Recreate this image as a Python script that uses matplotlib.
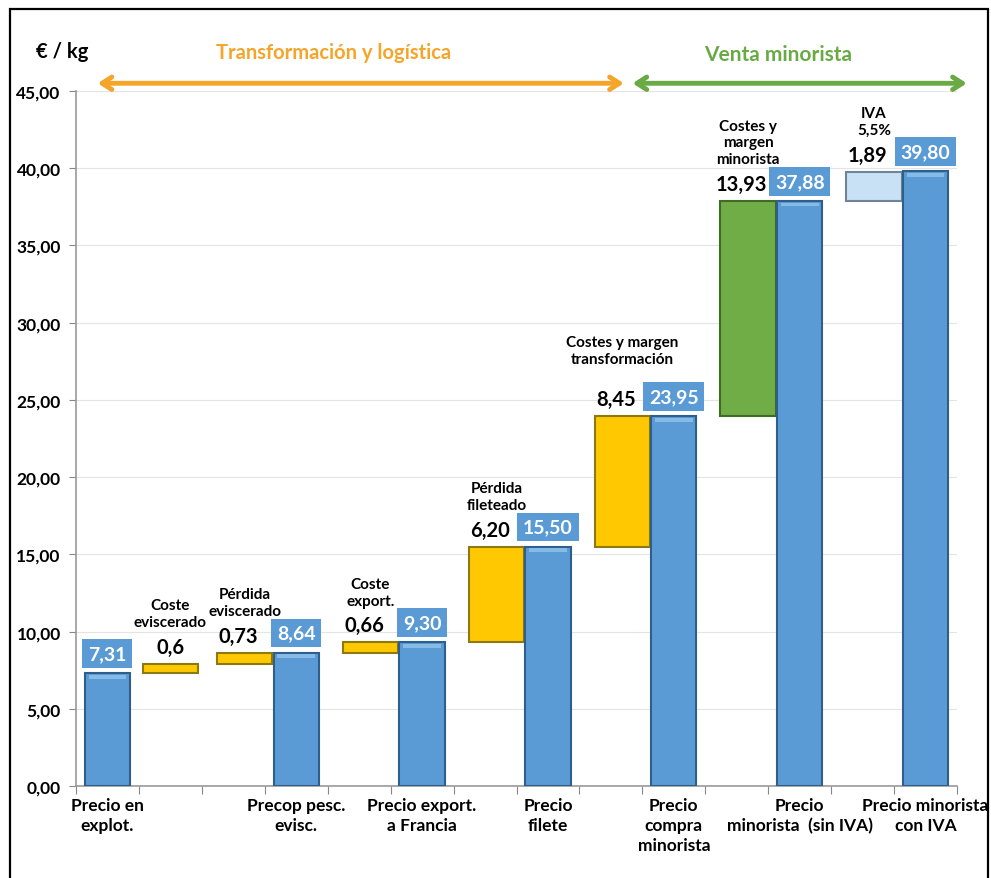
import matplotlib.pyplot as plt
from matplotlib.patches import Rectangle
import numpy as np

plt.rcParams['font.family'] = ['Lato', 'DejaVu Sans']

# 14 slots: totals (blue) and steps in between
kinds = ['total', 'step', 'step', 'total', 'step', 'total', 'step', 'total',
         'step', 'total', 'step', 'total', 'step', 'total']
values = [7.31, 0.6, 0.73, 8.64, 0.66, 9.30, 6.20, 15.50,
          8.45, 23.95, 13.93, 37.88, 1.89, 39.80]
value_labels = ['7,31', '0,6', '0,73', '8,64', '0,66', '9,30', '6,20', '15,50',
                '8,45', '23,95', '13,93', '37,88', '1,89', '39,80']
step_colors = ['yellow', 'yellow', 'yellow', 'yellow', 'yellow', 'green', 'lightblue']
step_names = ['Coste\neviscerado', 'Pérdida\neviscerado', 'Coste\nexport.',
              'Pérdida\nfileteado', 'Costes y margen\ntransformación',
              'Costes y\nmargen\nminorista', 'IVA\n5,5%']
cat_labels = ['Precio en\nexplot.', 'Precop pesc.\nevisc.', 'Precio export.\na Francia',
              'Precio\nfilete', 'Precio\ncompra\nminorista',
              'Precio\nminorista  (sin IVA)', 'Precio minorista\ncon IVA']
yticks = [0, 5, 10, 15, 20, 25, 30, 35, 40, 45]

palette = {'blue': ('#5B9BD5', '#2E5E8C'),
           'yellow': ('#FFC800', '#8C7A10'),
           'green': ('#70AD47', '#3F6B25'),
           'lightblue': ('#C9E1F4', '#6F8496')}

fig = plt.figure(figsize=(9.91, 8.79), dpi=100)
ax = fig.add_axes([76/991, 1-787/879, 881/991, 695/879])

running = 0.0
si = 0
total_x = [i for i, k in enumerate(kinds) if k == 'total']
for i, (k, v, lab) in enumerate(zip(kinds, values, value_labels)):
    if k == 'total':
        fc, ec = palette['blue']
        ax.bar(i, v, width=0.72, color=fc, edgecolor=ec, linewidth=1.5, zorder=3)
        ax.bar(i, 0.25, bottom=v-0.35, width=0.6, color='#86BBE8', linewidth=0, zorder=4)
        running = v
        ax.annotate(lab, (i, v), xytext=(0, 8), textcoords='offset points',
                    ha='center', va='bottom', fontsize=14, fontweight='bold', color='white',
                    bbox=dict(boxstyle='square,pad=0.3', fc='#5B9BD5', ec='none'), zorder=5)
    else:
        nxt = kinds[i+1] if i+1 < len(kinds) else ''
        xc = i + 0.18 if nxt == 'total' else i
        fc, ec = palette[step_colors[si]]
        ax.bar(xc, v, bottom=running, width=0.88, color=fc, edgecolor=ec, linewidth=1.5, zorder=3)
        top = running + v
        lx = xc - 0.1 if nxt == 'total' else xc
        ax.annotate(lab, (lx, top), xytext=(0, 5), textcoords='offset points',
                    ha='center', va='bottom', fontsize=14.5, fontweight='bold', color='black', zorder=5)
        gap = 36 if si == 4 else 25
        ax.annotate(step_names[si], (xc, top), xytext=(0, gap), textcoords='offset points',
                    ha='center', va='bottom', fontsize=11, fontweight='bold', color='black',
                    linespacing=1.25, zorder=5)
        running = top
        si += 1

ax.set_xlim(-0.5, 13.5)
ax.set_ylim(0, 45)
ax.set_yticks(yticks)
ax.set_yticklabels([f'{t:.2f}'.replace('.', ',') for t in yticks], fontsize=12.5, fontweight='bold')
ax.set_xticks(np.arange(-0.5, 14, 1))
ax.set_xticklabels([])
ax.set_xticks(total_x, minor=True)
ax.set_xticklabels(cat_labels, minor=True, fontsize=12.5, fontweight='bold', linespacing=1.3)
ax.tick_params(axis='x', which='major', length=6, color='#888888', direction='out')
ax.tick_params(axis='x', which='minor', length=0, pad=8)
ax.tick_params(axis='y', length=5, color='#888888', pad=6)
ax.grid(axis='y', color='#E4E4E4', linewidth=0.8, zorder=0)
ax.set_axisbelow(True)
for s in ['top', 'right']:
    ax.spines[s].set_visible(False)
for s in ['left', 'bottom']:
    ax.spines[s].set_color('#999999')
    ax.spines[s].set_linewidth(1.2)

# phase arrows
ax.annotate('', xy=(-0.2, 45.5), xytext=(8.25, 45.5),
            arrowprops=dict(arrowstyle='<->,head_length=0.7,head_width=0.45', color='#F5A52A', lw=3.5),
            annotation_clip=False)
ax.annotate('', xy=(8.3, 45.5), xytext=(13.7, 45.5),
            arrowprops=dict(arrowstyle='<->,head_length=0.7,head_width=0.45', color='#6AAA45', lw=3.5),
            annotation_clip=False)
ax.text(3.6, 47.5, 'Transformación y logística', ha='center', va='center',
        fontsize=14.5, fontweight='bold', color='#F5A52A', clip_on=False)
ax.text(10.65, 47.4, 'Venta minorista', ha='center', va='center',
        fontsize=15, fontweight='bold', color='#6AAA45', clip_on=False)

fig.text(62/991, 1-52/879, '€ / kg', ha='center', va='center', fontsize=14.5, fontweight='bold')
fig.patches.append(Rectangle((10/991, -0.02), 978/991, 1.02-10/879, transform=fig.transFigure,
                             fill=False, ec='black', lw=1.6))

fig.savefig('out.png', dpi=100)
